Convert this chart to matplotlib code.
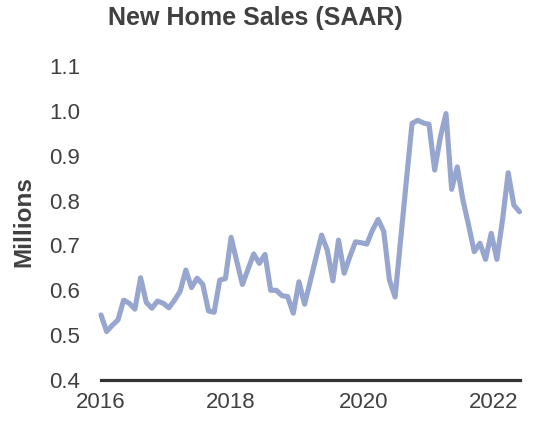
import matplotlib
matplotlib.use('Agg')

import matplotlib.pyplot as plt
import numpy as np

plt.rcParams['font.family'] = ['Liberation Sans', 'DejaVu Sans']

# Monthly new home sales, SAAR (millions), early 2016 onward
sales = [
    0.545, 0.508, 0.522, 0.534, 0.578, 0.571, 0.558, 0.628, 0.573, 0.560,
    0.576, 0.571, 0.561, 0.578, 0.598, 0.645, 0.606, 0.627, 0.613, 0.554,
    0.551, 0.623, 0.626, 0.718, 0.665, 0.613, 0.647, 0.681, 0.660, 0.680,
    0.600, 0.600, 0.588, 0.586, 0.549, 0.619, 0.569, 0.620, 0.672, 0.723,
    0.690, 0.621, 0.712, 0.638, 0.675, 0.708, 0.706, 0.703, 0.734, 0.758,
    0.731, 0.623, 0.585, 0.715, 0.845, 0.972, 0.979, 0.973, 0.970, 0.868,
    0.941, 0.994, 0.825, 0.875, 0.801, 0.745, 0.686, 0.705, 0.669, 0.727,
    0.669, 0.757, 0.862, 0.790, 0.775,
]
tick_pos = [0, 23, 46.5, 69.5]
tick_labels = ['2016', '2018', '2020', '2022']
y_ticks = [0.4, 0.5, 0.6, 0.7, 0.8, 0.9, 1.0, 1.1]

LINE_COLOR = '#97a6cf'
TEXT_COLOR = '#404040'

fig = plt.figure(figsize=(5.41, 4.21), dpi=100)
ax = fig.add_axes([101 / 541, 1 - 380 / 421, (519.5 - 101) / 541, (380 - 66) / 421])

x = np.arange(len(sales))
ax.plot(x, sales, color=LINE_COLOR, linewidth=3.7, solid_joinstyle='round',
        solid_capstyle='round', clip_on=False)

ax.set_xlim(0, len(sales) - 1)
ax.set_ylim(0.4, 1.1)
ax.set_yticks(y_ticks)
ax.set_yticklabels([f'{v:.1f}' for v in y_ticks])
ax.set_xticks(tick_pos)
ax.set_xticklabels(tick_labels)

for side in ['top', 'right', 'left']:
    ax.spines[side].set_visible(False)
ax.spines['bottom'].set_color('#333333')
ax.spines['bottom'].set_linewidth(2.3)
ax.spines['bottom'].set_capstyle('projecting')

ax.tick_params(axis='y', length=0, pad=15, labelsize=16, labelcolor=TEXT_COLOR)
ax.tick_params(axis='x', length=0, pad=9, labelsize=16, labelcolor=TEXT_COLOR)

fig.text(255 / 541, 1 - 18 / 421, 'New Home Sales (SAAR)', ha='center', va='center',
         fontsize=18, fontweight='bold', color=TEXT_COLOR)
fig.text(23.5 / 541, 1 - 222 / 421, 'Millions', ha='center', va='center', rotation=90,
         fontsize=17.5, fontweight='bold', color=TEXT_COLOR)

fig.savefig('out.png', dpi=100)
